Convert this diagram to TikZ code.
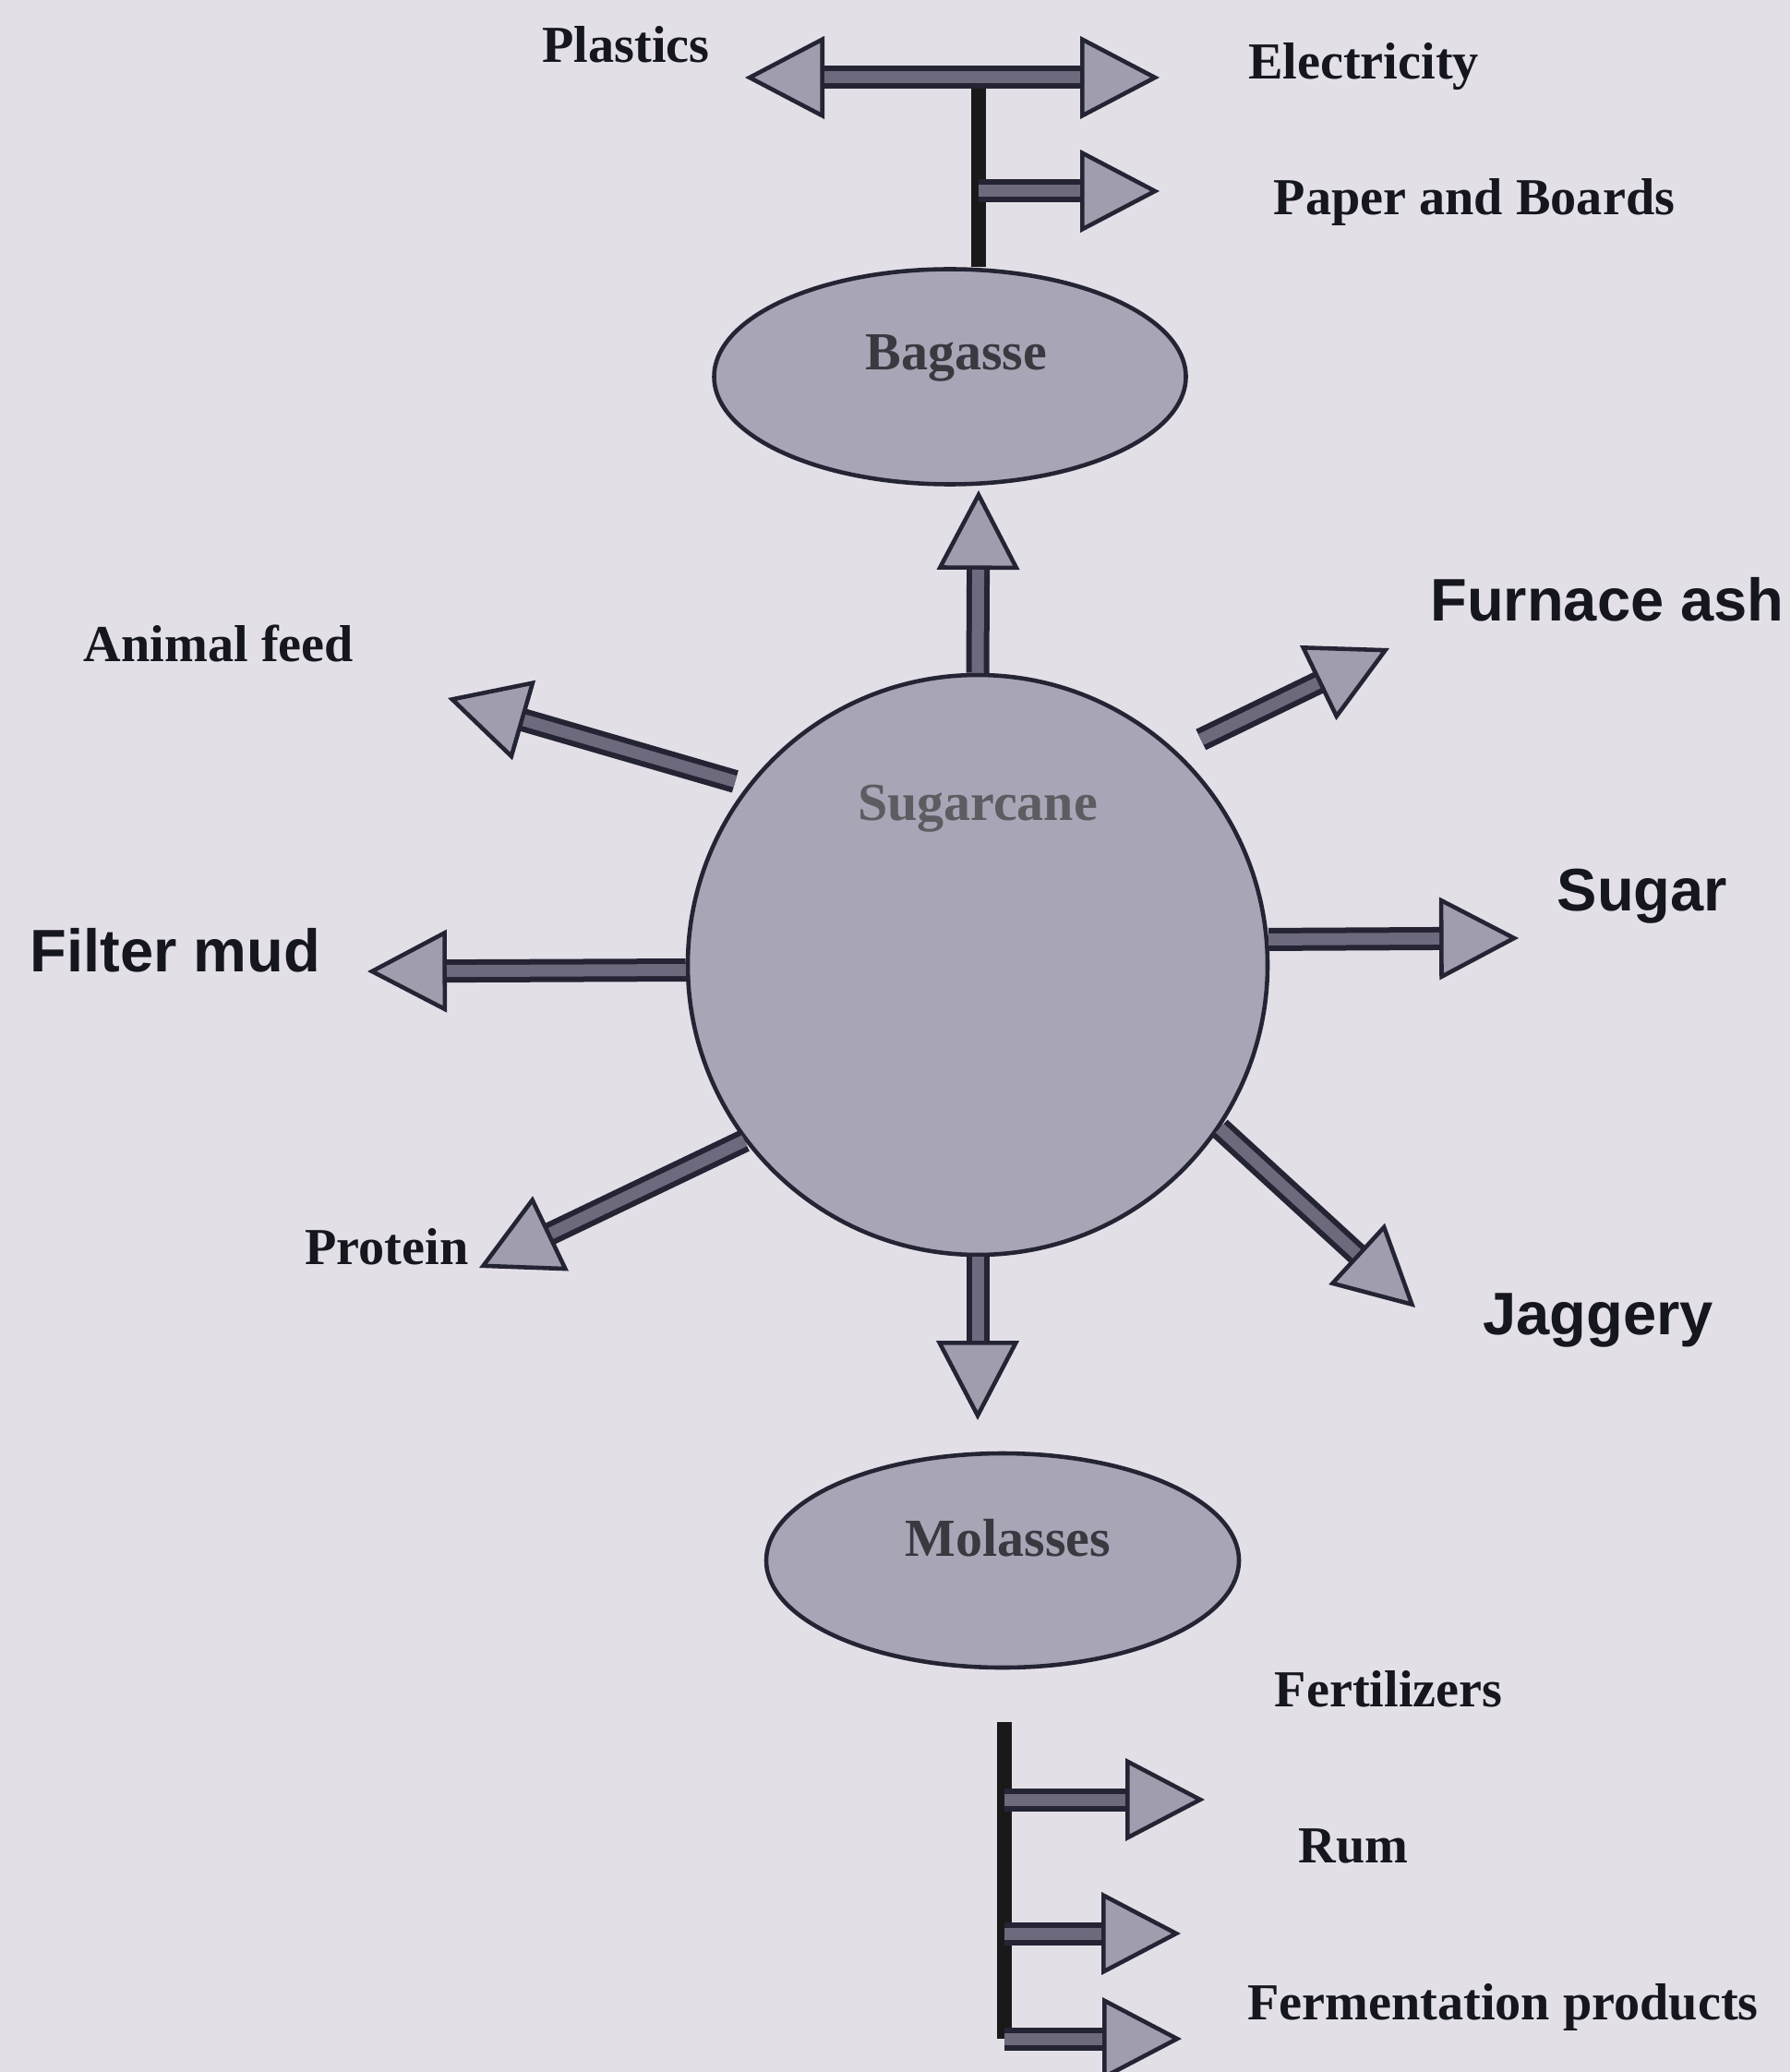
\documentclass[tikz,border=0pt]{standalone}
\usepackage{fontspec}
\setmainfont{Liberation Serif}
\setsansfont{Liberation Sans}
\usepackage{tikz}
\usetikzlibrary{calc,positioning,arrows.meta,shapes.geometric}
\definecolor{paper}{RGB}{226,223,231}
\definecolor{blobfill}{RGB}{168,166,182}
\definecolor{headfill}{RGB}{160,158,174}
\definecolor{shaftfill}{RGB}{108,106,124}
\definecolor{inkline}{RGB}{36,36,52}
\definecolor{inktext}{RGB}{22,22,30}

\tikzset{
  blob/.style={draw=inkline,line width=1.3pt,fill=blobfill,inner sep=0pt},
  blobtext/.style={font=\fontsize{16.5}{19}\selectfont\bfseries,text=inktext!85},
  product/.style={font=\fontsize{16}{19}\selectfont\bfseries,text=inktext},
  bigproduct/.style={font=\sffamily\fontsize{18.5}{21}\selectfont\bfseries,text=inktext},
  fat/.style={draw=inkline,line width=0.25cm,-{Triangle[length=0.86cm,width=0.89cm,line width=1.3pt,fill=headfill]},
    postaction={draw=shaftfill,line width=0.13cm,shorten >=0.86cm,arrows=-}},
  fatboth/.style={draw=inkline,line width=0.25cm,{Triangle[length=0.86cm,width=0.89cm,line width=1.3pt,fill=headfill]}-{Triangle[length=0.86cm,width=0.89cm,line width=1.3pt,fill=headfill]},
    postaction={draw=shaftfill,line width=0.13cm,shorten >=0.86cm,shorten <=0.86cm,arrows=-}},
  stem/.style={draw=black!90,line width=0.16cm}
}

\begin{document}
\begin{tikzpicture}[line join=miter]
\fill[paper] (0,0) rectangle (19.39,-22.44);
\useasboundingbox (0,0) rectangle (19.39,-22.44);

% main blobs
\node[blob,circle,minimum size=6.28cm] (cane) at (10.59,-10.45) {};
\node[blob,ellipse,minimum width=5.11cm,minimum height=2.33cm] (bagasse) at (10.29,-4.08) {};
\node[blob,ellipse,minimum width=5.12cm,minimum height=2.32cm] (molasses) at (10.86,-16.90) {};
\node[blobtext,text=inktext!70] (canetxt) at (10.59,-8.76) {Sugarcane};
\node[blobtext] (bagassetxt) at (10.36,-3.88) {Bagasse};
\node[blobtext] (molassestxt) at (10.92,-16.66) {Molasses};

% products
\node[product] (plastics) at (6.78,-0.48) {Plastics};
\node[product] (elec) at (14.77,-0.72) {Electricity};
\node[product] (paperb) at (15.97,-2.19) {Paper and Boards};
\node[product] (feed) at (2.37,-6.97) {Animal feed};
\node[product] (protein) at (4.19,-13.50) {Protein};
\node[product] (fert) at (15.04,-18.29) {Fertilizers};
\node[product] (rum) at (14.66,-19.99) {Rum};
\node[product] (ferm) at (16.28,-21.74) {Fermentation products};
\node[bigproduct] (ash) at (17.41,-6.49) {Furnace ash};
\node[bigproduct] (sugar) at (17.79,-9.71) {Sugar};
\node[bigproduct] (jaggery) at (17.31,-14.30) {Jaggery};
\node[bigproduct] (mud) at (1.90,-10.29) {Filter mud};

% arrow ends
\coordinate (bagassetip) at (10.60,-5.31);
\coordinate (molassestip) at (10.59,-15.38);
\coordinate (feedtip) at (4.85,-7.56);
\coordinate (mudtip) at (3.98,-10.52);
\coordinate (proteintip) at (5.19,-13.73);
\coordinate (ashtip) at (15.05,-7.02);
\coordinate (sugartip) at (16.45,-10.16);
\coordinate (jaggerytip) at (15.33,-14.16);

% bagasse branch
\coordinate (tjoin) at (10.60,-0.84);
\coordinate (paperroot) at (10.60,-2.07);
\coordinate (plastictip) at (8.07,-0.84);
\coordinate (electip) at (12.56,-0.84);
\coordinate (papertip) at (12.56,-2.07);
\draw[stem] (tjoin |- bagasse.north) -- (tjoin);
\draw[fatboth] (plastictip) -- (electip);
\draw[fat] (paperroot) -- (papertip);

% molasses branch
\coordinate (mtop) at (10.88,-18.65);
\coordinate (mbot) at (10.88,-22.08);
\coordinate (fertroot) at (10.88,-19.49);
\coordinate (rumroot) at (10.88,-20.94);
\coordinate (fermroot) at (10.88,-22.08);
\draw[stem] (mtop) -- (mbot);
\draw[fat] (fertroot) -- (13.05,-19.49);
\draw[fat] (rumroot) -- (12.79,-20.94);
\draw[fat] (fermroot) -- (12.80,-22.08);

% outputs of the cane
\draw[fat] (cane.north) -- (bagassetip);
\draw[fat] (cane.south) -- (molassestip);
\draw[fat,shorten <=0.14cm] (cane.142) -- (feedtip);
\draw[fat] (cane.181) -- (mudtip);
\draw[fat] (cane.217) -- (proteintip);
\draw[fat,shorten <=0.29cm] (cane.47.5) -- (ashtip);
\draw[fat] (cane.5) -- (sugartip);
\draw[fat] (cane.-34) -- (jaggerytip);
\end{tikzpicture}
\end{document}
